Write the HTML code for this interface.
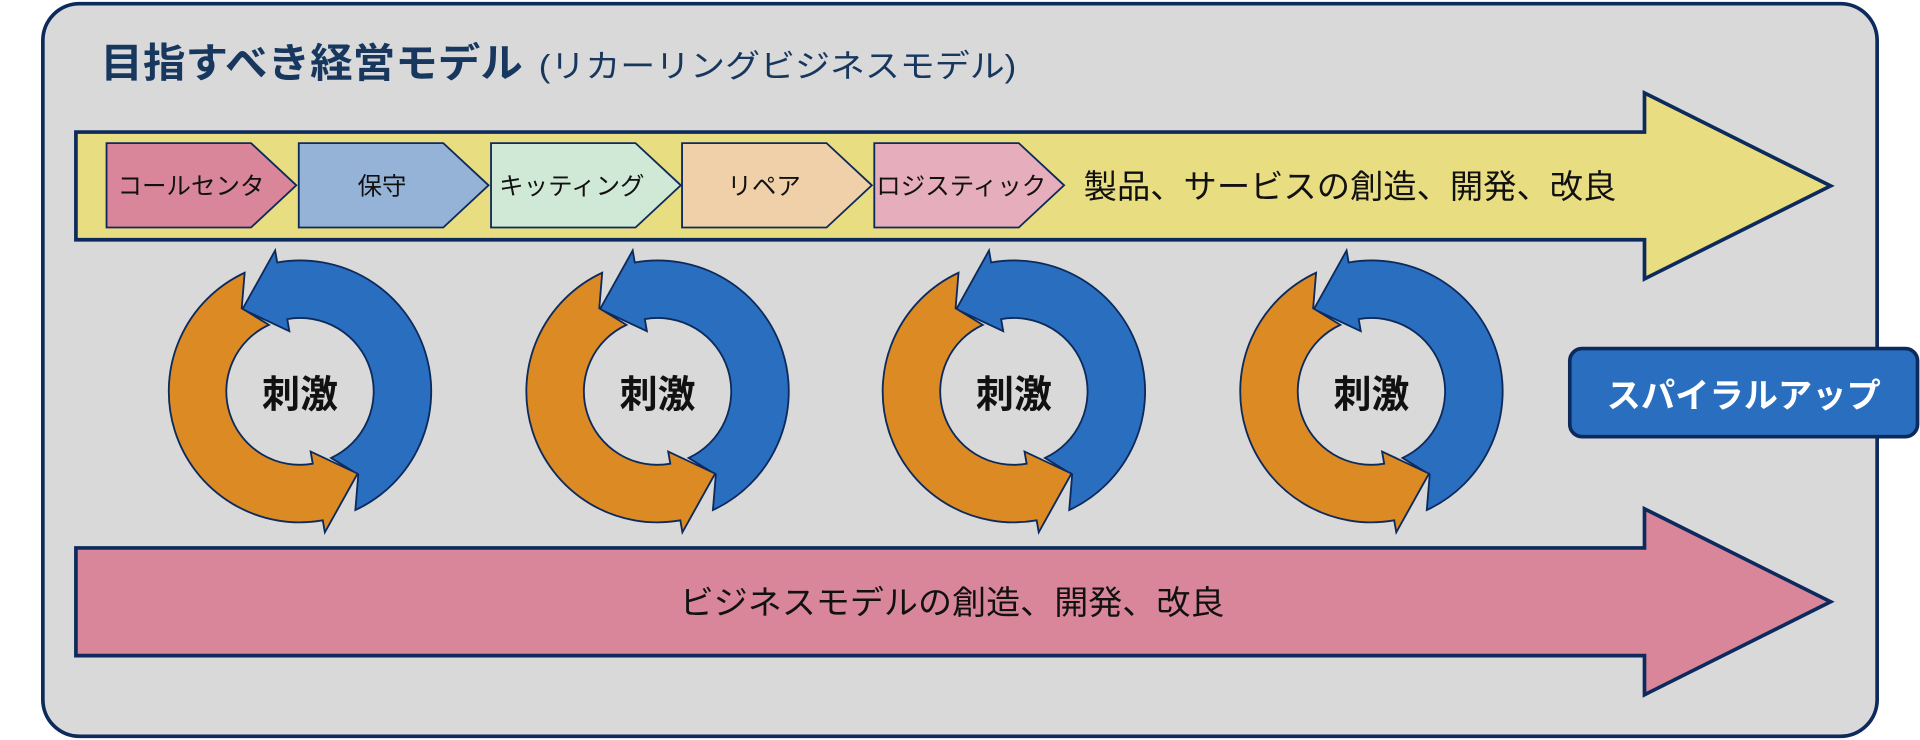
<!DOCTYPE html>
<html><head><meta charset="utf-8"><style>
html,body{margin:0;padding:0;background:#fff;}
svg{display:block;}
text{font-family:"Liberation Sans","Noto Sans CJK JP",sans-serif;}
</style></head><body>
<svg width="1920" height="740" viewBox="0 0 1568 605" preserveAspectRatio="none" xmlns="http://www.w3.org/2000/svg">
<defs>
<path id="blue" d="M45.2,97 A107,107 0 0 0 -18.6,-105.4 L-20.3,-115.2 L-47,-67.2 L-8.7,-49.2 L-10.4,-59.1 A60,60 0 0 1 25.4,54.4 L47.6,68 Z"/>
</defs>
<rect x="35" y="3" width="1498" height="599" rx="30" fill="#d9d9d9" stroke="#0d2a5c" stroke-width="3"/>
<text x="82" y="63" font-size="33" font-weight="bold" fill="#17375e" textLength="345" lengthAdjust="spacingAndGlyphs">目指すべき経営モデル</text>
<text x="440" y="63" font-size="26" fill="#17375e" textLength="390" lengthAdjust="spacingAndGlyphs">(リカーリングビジネスモデル)</text>

<path d="M62,108 H1343 V76 L1495,152 L1343,228 V196 H62 Z" fill="#e9dd81" stroke="#0d2a5c" stroke-width="3"/>
<g stroke="#0d2a5c" stroke-width="1.5">
<path d="M87,117 H205 L242,151.5 L205,186 H87 Z" fill="#d9869b"/>
<path d="M244,117 H362 L399,151.5 L362,186 H244 Z" fill="#95b3d7"/>
<path d="M401,117 H519 L556,151.5 L519,186 H401 Z" fill="#d0e9d6"/>
<path d="M557,117 H675 L712,151.5 L675,186 H557 Z" fill="#f0d0a8"/>
<path d="M714,117 H832 L869,151.5 L832,186 H714 Z" fill="#e6adbd"/>
</g>
<g font-size="20" fill="#111" text-anchor="middle">
<text x="156" y="159">コールセンタ</text>
<text x="312" y="159">保守</text>
<text x="467" y="159">キッティング</text>
<text x="624" y="159">リペア</text>
<text x="785" y="159">ロジスティック</text>
</g>
<text x="885" y="162" font-size="27" fill="#111" textLength="435" lengthAdjust="spacingAndGlyphs">製品、サービスの創造、開発、改良</text>

<g stroke="#0d2a5c" stroke-width="1.5">
<g transform="translate(245,320)"><use href="#blue" fill="#2a6ebf"/><use href="#blue" fill="#dc8a24" transform="rotate(180)"/></g>
<g transform="translate(537,320)"><use href="#blue" fill="#2a6ebf"/><use href="#blue" fill="#dc8a24" transform="rotate(180)"/></g>
<g transform="translate(828,320)"><use href="#blue" fill="#2a6ebf"/><use href="#blue" fill="#dc8a24" transform="rotate(180)"/></g>
<g transform="translate(1120,320)"><use href="#blue" fill="#2a6ebf"/><use href="#blue" fill="#dc8a24" transform="rotate(180)"/></g>
</g>
<g font-size="31" font-weight="bold" fill="#111" text-anchor="middle">
<text x="245" y="333">刺激</text>
<text x="537" y="333">刺激</text>
<text x="828" y="333">刺激</text>
<text x="1120" y="333">刺激</text>
</g>

<rect x="1282" y="285" width="284" height="72" rx="10" fill="#2a6ebf" stroke="#0d2a5c" stroke-width="3"/>
<text x="1424" y="333" font-size="28" font-weight="bold" fill="#fff" text-anchor="middle">スパイラルアップ</text>

<path d="M62,448 H1343 V416 L1495,492 L1343,568 V536 H62 Z" fill="#d9869b" stroke="#0d2a5c" stroke-width="3"/>
<text x="555" y="502" font-size="27" fill="#111" textLength="445" lengthAdjust="spacingAndGlyphs">ビジネスモデルの創造、開発、改良</text>
</svg>
</body></html>
